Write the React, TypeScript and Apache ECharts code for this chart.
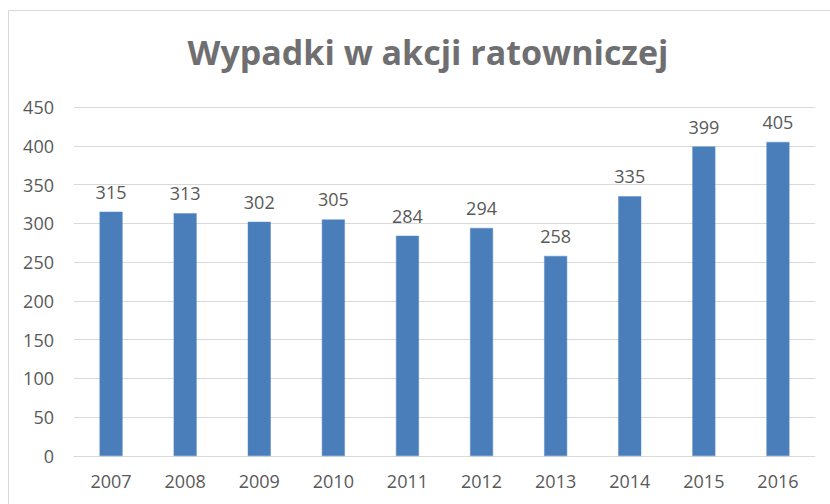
import React, { useEffect, useRef } from "react";
import * as echarts from "echarts";

const title = "Wypadki w akcji ratowniczej";
const years = ["2007", "2008", "2009", "2010", "2011", "2012", "2013", "2014", "2015", "2016"];
const accidents = [315, 313, 302, 305, 284, 294, 258, 335, 399, 405];

export default function App() {
  const ref = useRef<HTMLDivElement>(null);
  useEffect(() => {
    const chart = echarts.init(ref.current!, null, { renderer: "svg" });
    const font = "'Open Sans', sans-serif";
    chart.setOption({
      animation: false,
      backgroundColor: "#ffffff",
      graphic: [
        {
          type: "rect",
          shape: { x: 8.5, y: 10.5, width: 840, height: 520 },
          style: { fill: "none", stroke: "#d9d9d9", lineWidth: 1 },
          silent: true,
        },
      ],
      title: {
        text: title,
        left: 423,
        textAlign: "center",
        top: 30,
        textStyle: { fontFamily: font, fontSize: 34, fontWeight: "bold", color: "#6f6f71" },
      },
      grid: { left: 74, right: 15, top: 107, bottom: 48, containLabel: false },
      xAxis: {
        type: "category",
        data: years,
        axisLine: { lineStyle: { color: "#d9d9d9" } },
        axisTick: { show: false },
        axisLabel: { color: "#595959", fontSize: 18, fontFamily: font, margin: 16 },
      },
      yAxis: {
        type: "value",
        min: 0,
        max: 450,
        interval: 50,
        axisLine: { show: false },
        axisTick: { show: false },
        splitLine: { lineStyle: { color: "#d9d9d9" } },
        axisLabel: { color: "#595959", fontSize: 18, fontFamily: font, margin: 20 },
      },
      series: [
        {
          type: "bar",
          data: accidents,
          barWidth: 23,
          itemStyle: { color: "#4a7ebb", borderColor: "#5b8cc8", borderWidth: 0.5 },
          label: {
            show: true,
            position: "top",
            distance: 11,
            color: "#595959",
            fontSize: 18,
            fontFamily: font,
          },
        },
      ],
    });
    return () => chart.dispose();
  }, []);
  return <div ref={ref} style={{ width: 830, height: 504, position: "absolute", left: 0, top: 0 }} />;
}
